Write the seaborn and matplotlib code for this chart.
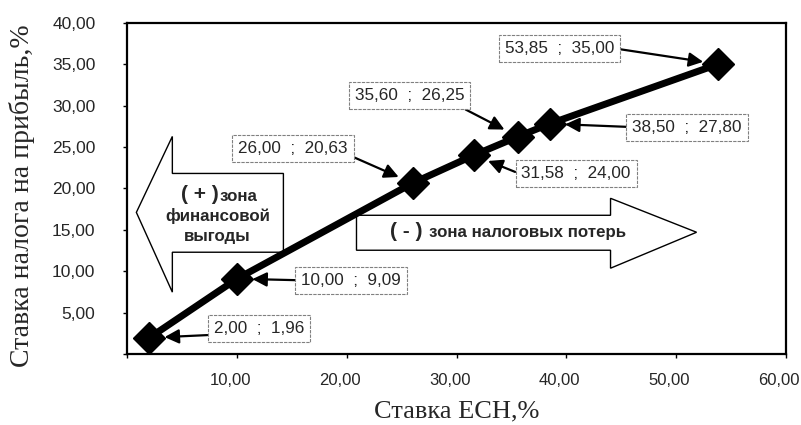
import matplotlib
matplotlib.use("Agg")
import matplotlib.pyplot as plt
import matplotlib.transforms as mtransforms
import pandas as pd
import seaborn as sns
from matplotlib.patches import Polygon
from matplotlib.ticker import FuncFormatter

# Data: ECH rate vs profit tax rate
ech_rate = [2.00, 10.00, 26.00, 31.58, 35.60, 38.50, 53.85]
tax_rate = [1.96, 9.09, 20.63, 24.00, 26.25, 27.80, 35.00]

# label box centres (data coords) and where the arrow leaves the box
label_pos = [(12.0, 3.1), (20.4, 8.9), (15.1, 24.8), (40.9, 21.8),
             (25.7, 31.2), (51.0, 27.4), (39.4, 36.9)]
label_relpos = [(0, 0.07), (0, 0.5), (1, 0.1), (0, 0.43),
                (0.9, 0), (0, 0.5), (1, 0.5)]

x_ticks = [0, 10, 20, 30, 40, 50, 60]
y_ticks = [0, 5, 10, 15, 20, 25, 30, 35, 40]

sns.set_style("white")
plt.rcParams['font.family'] = ['Liberation Sans', 'DejaVu Sans']

df = pd.DataFrame({'ech': ech_rate, 'tax': tax_rate})

fig = plt.figure(figsize=(8.01, 4.25), dpi=100)
ax = fig.add_axes([0.159, 0.167, 0.822, 0.7796])


def comma(v, pos=None):
    if v == 0:
        return ''
    return f"{v:.2f}".replace('.', ',')


# big block arrows (zones)
left_zone = [(0.82, 17.1), (4.10, 26.27), (4.10, 21.8), (14.22, 21.8),
             (14.22, 12.29), (4.10, 12.29), (4.10, 7.47)]
right_zone = [(20.88, 16.75), (44.03, 16.75), (44.03, 18.8), (51.87, 14.7),
              (44.03, 10.36), (44.03, 12.53), (20.88, 12.53)]
for poly in (left_zone, right_zone):
    ax.add_patch(Polygon(poly, closed=True, fc='white', ec='black', lw=1.0, zorder=1))

bold = dict(fontweight='bold', zorder=2, va='center')
ax.text(8.3, 19.2, "( + )", ha='right', fontsize=15, **bold)
ax.text(8.4, 19.0, "зона", ha='left', fontsize=12.2, **bold)
ax.text(8.2, 16.7, "финансовой", ha='center', fontsize=12.2, **bold)
ax.text(8.2, 14.2, "выгоды", ha='center', fontsize=12.2, **bold)
ax.text(26.9, 14.8, "( - )", ha='right', fontsize=15, **bold)
ax.text(27.5, 14.7, "зона налоговых потерь", ha='left', fontsize=12.2, **bold)

sns.lineplot(data=df, x='ech', y='tax', ax=ax, color='black', linewidth=5,
             marker='D', markersize=16, markeredgecolor='black', markeredgewidth=1,
             zorder=3)

for x, y, (tx, ty), rp in zip(ech_rate, tax_rate, label_pos, label_relpos):
    txt = f"{x:.2f}  ;  {y:.2f}".replace('.', ',')
    ax.annotate(txt, xy=(x, y), xytext=(tx, ty), ha='center', va='center',
                fontsize=12.3, zorder=4,
                bbox=dict(boxstyle='square,pad=0.35', fc='white', ec='0.5',
                          lw=0.8, ls=(0, (3, 1))),
                arrowprops=dict(arrowstyle='-|>,head_length=0.7,head_width=0.35',
                                color='black', lw=1.6, relpos=rp,
                                shrinkA=0, shrinkB=11))

ax.set_xlim(0, 60)
ax.set_ylim(0, 40)
ax.set_xticks(x_ticks)
ax.set_yticks(y_ticks)
ax.xaxis.set_major_formatter(FuncFormatter(comma))
ax.yaxis.set_major_formatter(FuncFormatter(comma))
ax.tick_params(axis='both', direction='out', length=3, width=1, color='black',
               labelsize=12, bottom=True, left=True)
ax.tick_params(axis='y', pad=20, labelsize=12.5)
ax.tick_params(axis='x', pad=11)
# x tick labels sit a little left of their ticks in the original
shift = mtransforms.ScaledTranslation(-0.07, 0, fig.dpi_scale_trans)
for lab in ax.get_xticklabels():
    lab.set_transform(lab.get_transform() + shift)

for s in ax.spines.values():
    s.set_color('black')
    s.set_linewidth(1.6)

ax.set_xlabel("Ставка ЕСН,%", fontsize=19, family=['Liberation Serif'])
ax.set_ylabel("Ставка налога на прибыль,%", fontsize=20, family=['Liberation Serif'])
ax.yaxis.set_label_coords(-0.14, 0.477)
ax.xaxis.set_label_coords(0.5, -0.14)

fig.savefig("out.png", dpi=100)
